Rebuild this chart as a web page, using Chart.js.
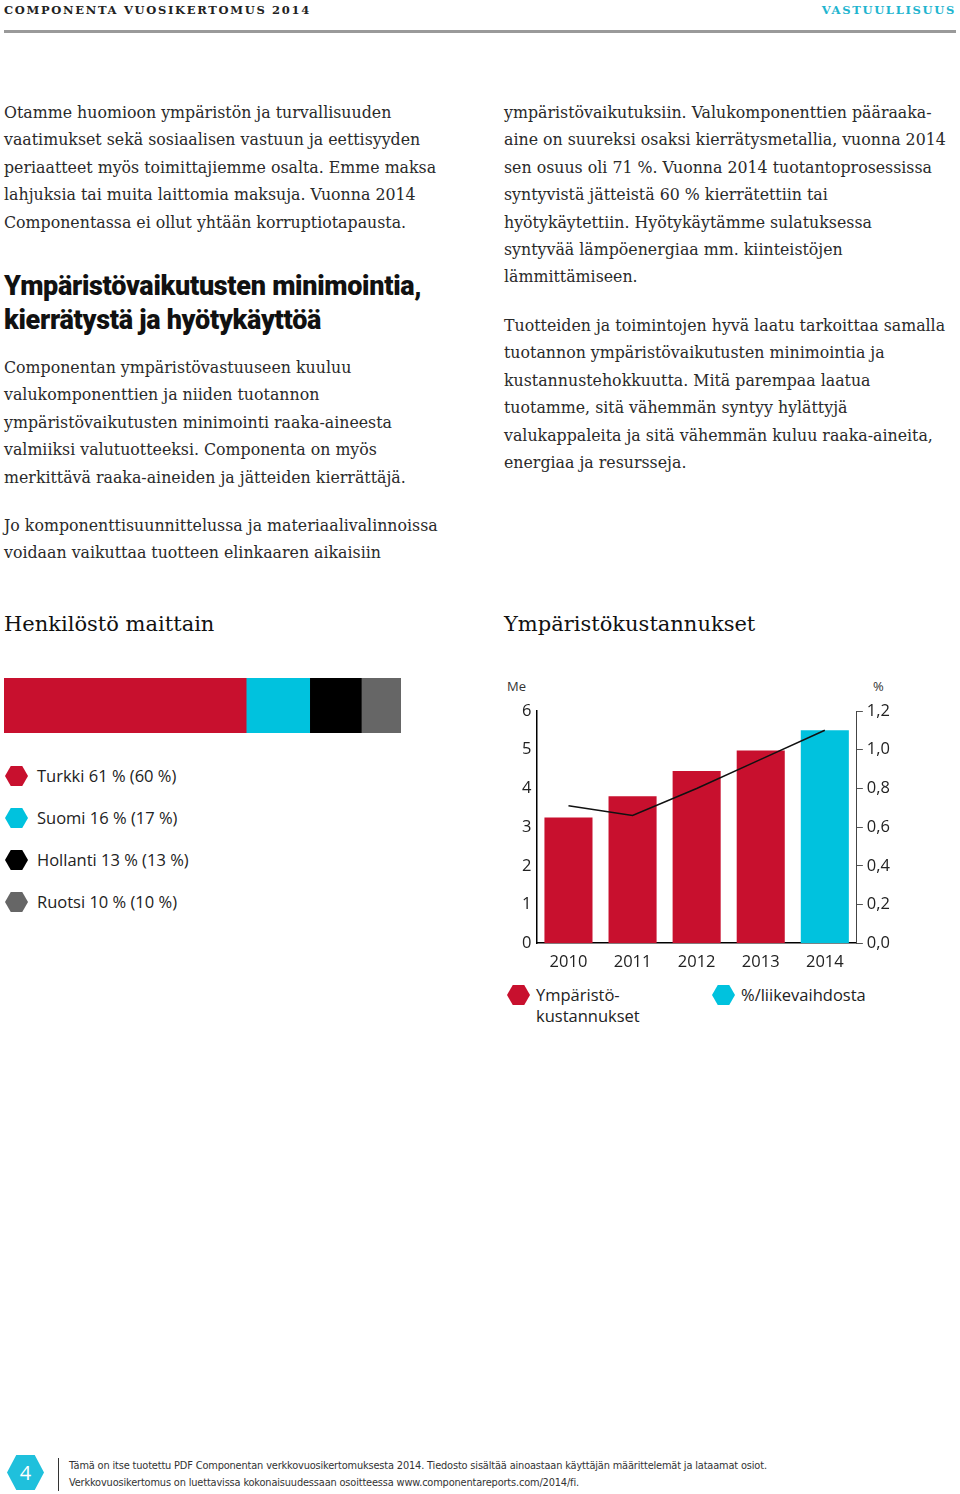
<!DOCTYPE html>
<html lang="fi">
<head>
<meta charset="utf-8">
<title>Componenta vuosikertomus 2014 - Vastuullisuus</title>
<script src="https://cdn.jsdelivr.net/npm/chart.js@4.4.1/dist/chart.umd.min.js"></script>
<style>
  html, body { margin: 0; padding: 0; background: #fff; }
  #sivu { position: relative; width: 960px; height: 1494px; overflow: hidden; color: #222; }
  .abs { position: absolute; }
  .yla { font-family: "DejaVu Serif", serif; font-weight: bold; font-size: 11.5px; letter-spacing: 1.7px; top: 3px; }
  .viiva { left: 4px; top: 30px; width: 952px; height: 3px; background: #9a9a9a; }
  .teksti { font-family: "DejaVu Serif", serif; font-size: 15.8px; line-height: 27.4px; color: #2a2a2a; white-space: nowrap; }
  .otsikko { font-family: Roboto, "Open Sans", sans-serif; font-weight: 900; font-size: 27px; line-height: 34px; letter-spacing: -0.3px; color: #111; white-space: nowrap; }
  .kaavio-otsikko { font-family: "DejaVu Serif", serif; font-size: 21px; color: #111; white-space: nowrap; }
  .selite { font-family: "Open Sans", sans-serif; font-size: 16.5px; color: #222; white-space: nowrap; }
  .selite .rivi { position: absolute; left: 0; height: 22px; }
  .kuusikulmio { position: absolute; width: 23px; height: 20px; clip-path: polygon(25% 0, 75% 0, 100% 50%, 75% 100%, 25% 100%, 0 50%); }
  .selite .nimi { position: absolute; left: 32px; top: -1px; line-height: 21px; }
  .yksikko { font-family: "Open Sans", sans-serif; font-size: 13px; color: #333; }
  .ala { font-family: "DejaVu Sans Condensed", "DejaVu Sans", sans-serif; font-size: 10.9px; line-height: 17px; color: #333; white-space: nowrap; letter-spacing: -0.15px; }
</style>
</head>
<body>
<div id="sivu">
  <div class="abs yla" style="left:4px;">COMPONENTA VUOSIKERTOMUS 2014</div>
  <div class="abs yla" style="right:4px; color:#1fb5cf;">VASTUULLISUUS</div>
  <div class="abs viiva"></div>

  <div class="abs teksti" style="left:4px; top:99px;">Otamme huomioon ympäristön ja turvallisuuden<br>vaatimukset sekä sosiaalisen vastuun ja eettisyyden<br>periaatteet myös toimittajiemme osalta. Emme maksa<br>lahjuksia tai muita laittomia maksuja. Vuonna 2014<br>Componentassa ei ollut yhtään korruptiotapausta.</div>

  <div class="abs otsikko" style="left:4px; top:269px;">Ympäristövaikutusten minimointia,<br>kierrätystä ja hyötykäyttöä</div>

  <div class="abs teksti" style="left:4px; top:354px;">Componentan ympäristövastuuseen kuuluu<br>valukomponenttien ja niiden tuotannon<br>ympäristövaikutusten minimointi raaka-aineesta<br>valmiiksi valutuotteeksi. Componenta on myös<br>merkittävä raaka-aineiden ja jätteiden kierrättäjä.</div>

  <div class="abs teksti" style="left:4px; top:512px;">Jo komponenttisuunnittelussa ja materiaalivalinnoissa<br>voidaan vaikuttaa tuotteen elinkaaren aikaisiin</div>

  <div class="abs teksti" style="left:504px; top:99px;">ympäristövaikutuksiin. Valukomponenttien pääraaka-<br>aine on suureksi osaksi kierrätysmetallia, vuonna 2014<br>sen osuus oli 71 %. Vuonna 2014 tuotantoprosessissa<br>syntyvistä jätteistä 60 % kierrätettiin tai<br>hyötykäytettiin. Hyötykäytämme sulatuksessa<br>syntyvää lämpöenergiaa mm. kiinteistöjen<br>lämmittämiseen.</div>

  <div class="abs teksti" style="left:504px; top:312px;">Tuotteiden ja toimintojen hyvä laatu tarkoittaa samalla<br>tuotannon ympäristövaikutusten minimointia ja<br>kustannustehokkuutta. Mitä parempaa laatua<br>tuotamme, sitä vähemmän syntyy hylättyjä<br>valukappaleita ja sitä vähemmän kuluu raaka-aineita,<br>energiaa ja resursseja.</div>

  <div class="abs kaavio-otsikko" style="left:4px; top:612px;">Henkilöstö maittain</div>
  <div class="abs kaavio-otsikko" style="left:504px; top:612px;">Ympäristökustannukset</div>

  <!-- henkilöstö -->
  <canvas id="henkilostoChart" class="abs" width="397" height="55" style="left:4px; top:678px;"></canvas>
  <div id="henkilostoSelite" class="abs selite" style="left:5px; top:766px;"></div>

  <!-- ympäristökustannukset -->
  <div class="abs yksikko" style="left:507px; top:677px;">Me</div>
  <div class="abs yksikko" style="left:873px; top:677px;">%</div>
  <canvas id="kustannusChart" class="abs" width="400" height="290" style="left:500px; top:685px;"></canvas>
  <div id="kustannusSelite" class="abs selite" style="left:507px; top:985px;"></div>

  <!-- alatunniste -->
  <div class="abs kuusikulmio" style="left:7px; top:1455px; width:37px; height:35px; background:#1fc0dc;"></div>
  <div class="abs" style="left:7px; top:1455px; width:37px; height:35px; line-height:35px; text-align:center; color:#fff; font-family:'Open Sans',sans-serif; font-size:20px;">4</div>
  <div class="abs" style="left:58px; top:1458px; width:1px; height:33px; background:#333;"></div>
  <div class="abs ala" style="left:69px; top:1457px;">Tämä on itse tuotettu PDF Componentan verkkovuosikertomuksesta 2014. Tiedosto sisältää ainoastaan käyttäjän määrittelemät ja lataamat osiot.<br>Verkkovuosikertomus on luettavissa kokonaisuudessaan osoitteessa www.componentareports.com/2014/fi.</div>
</div>

<script>
// --- Data: henkilöstö maittain (2014, suluissa 2013) ---
const maat = ['Turkki', 'Suomi', 'Hollanti', 'Ruotsi'];
const osuus2014 = [61, 16, 13, 10];
const osuus2013 = [60, 17, 13, 10];

// --- Data: ympäristökustannukset ---
const vuodet = ['2010', '2011', '2012', '2013', '2014'];
const kustannuksetMe = [3.25, 3.8, 4.45, 4.98, 5.5];
const osuusLiikevaihdosta = [0.71, 0.66, 0.80, 0.95, 1.10];
const sarjaNimet = ['Ympäristö-<br>kustannukset', '%/liikevaihdosta'];

// --- Värit ---
const PUNAINEN = '#c8102e';
const SYAANI = '#00c2de';
const maaVarit = [PUNAINEN, SYAANI, '#000000', '#666666'];
const sarjaVarit = [PUNAINEN, SYAANI];

const fontti = { family: '"Open Sans", sans-serif', size: 16.5 };

// --- Henkilöstö: pinottu vaakapalkki ---
new Chart(document.getElementById('henkilostoChart'), {
    type: 'bar',
    data: {
        labels: ['Henkilöstö'],
        datasets: maat.map((maa, i) => ({
            label: maa,
            data: [osuus2014[i]],
            backgroundColor: maaVarit[i],
            borderWidth: 0,
            barPercentage: 1,
            categoryPercentage: 1
        }))
    },
    options: {
        indexAxis: 'y',
        responsive: false,
        animation: false,
        layout: { padding: 0 },
        plugins: { legend: { display: false }, tooltip: { enabled: false } },
        scales: {
            x: { stacked: true, display: false, min: 0, max: 100 },
            y: { stacked: true, display: false }
        }
    }
});

// selite
const henkSelite = document.getElementById('henkilostoSelite');
maat.forEach((maa, i) => {
    const rivi = document.createElement('div');
    rivi.className = 'rivi';
    rivi.style.top = (i * 42) + 'px';
    rivi.innerHTML = `<span class="kuusikulmio" style="background:${maaVarit[i]}"></span>` +
        `<span class="nimi">${maa} ${osuus2014[i]} % (${osuus2013[i]} %)</span>`;
    henkSelite.appendChild(rivi);
});

// --- Ympäristökustannukset: palkit + viiva ---
new Chart(document.getElementById('kustannusChart'), {
    type: 'bar',
    data: {
        labels: vuodet,
        datasets: [
            {
                type: 'line',
                label: '%/liikevaihdosta',
                data: osuusLiikevaihdosta,
                yAxisID: 'y1',
                borderColor: '#111',
                borderWidth: 1.6,
                pointRadius: 0,
                tension: 0,
                order: 0
            },
            {
                label: 'Ympäristökustannukset',
                data: kustannuksetMe,
                yAxisID: 'y',
                backgroundColor: ctx => ctx.dataIndex === vuodet.length - 1 ? SYAANI : PUNAINEN,
                borderWidth: 0,
                barPercentage: 0.75,
                categoryPercentage: 1,
                order: 1
            }
        ]
    },
    options: {
        responsive: false,
        animation: false,
        layout: { padding: { left: 17, right: 6, top: 26, bottom: 2 } },
        plugins: { legend: { display: false }, tooltip: { enabled: false } },
        scales: {
            x: {
                grid: { display: false },
                border: { display: true, color: '#000', width: 1.5 },
                ticks: { color: '#222', font: fontti, padding: 1 }
            },
            y: {
                position: 'left',
                min: 0, max: 6,
                grid: { display: false, drawTicks: false },
                border: { display: true, color: '#000', width: 1.5 },
                ticks: { stepSize: 1, color: '#222', font: fontti, padding: 5 }
            },
            y1: {
                position: 'right',
                min: 0, max: 1.2,
                grid: { drawOnChartArea: false, color: '#555', tickLength: 6 },
                border: { display: true, color: '#444', width: 1 },
                ticks: {
                    stepSize: 0.2, color: '#222', font: fontti, padding: 4,
                    callback: v => v.toFixed(1).replace('.', ',')
                }
            }
        }
    }
});

const kustSelite = document.getElementById('kustannusSelite');
sarjaNimet.forEach((nimi, i) => {
    const rivi = document.createElement('div');
    rivi.className = 'rivi';
    rivi.style.left = (i * 205) + 'px';
    rivi.style.lineHeight = '21px';
    rivi.innerHTML = `<span class="kuusikulmio" style="background:${sarjaVarit[i]}"></span>` +
        `<span class="nimi" style="left:29px">${nimi}</span>`;
    kustSelite.appendChild(rivi);
});
</script>
</body>
</html>
